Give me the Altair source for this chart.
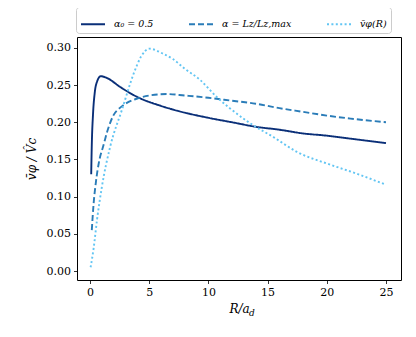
import altair as alt
import pandas as pd

series_names = ["α₀ = 0.5", "α = Lz/Lz,max", "v̄φ(R)"]
colors = ["#0a2f78", "#2a7cb8", "#62c5f3"]
dashes = [[1, 0], [6, 3], [2, 2.4]]
widths = [1.9, 1.9, 2.1]

x_solid = [0.1, 0.15, 0.25, 0.4, 0.6, 0.9, 1.5, 2.5, 4, 6, 8, 10, 12, 14, 16, 18, 20, 22, 25]
y_solid = [0.13, 0.17, 0.21, 0.24, 0.255, 0.262, 0.259, 0.248, 0.234, 0.222, 0.213, 0.206,
           0.200, 0.194, 0.190, 0.185, 0.182, 0.178, 0.172]

x_dash = [0.15, 0.3, 0.5, 0.8, 1.1, 1.5, 2, 2.5, 3, 4, 5, 6.5, 8, 10, 12, 14, 16, 18, 20, 22, 25]
y_dash = [0.055, 0.09, 0.12, 0.15, 0.167, 0.19, 0.21, 0.219, 0.225, 0.232, 0.236, 0.238, 0.236,
          0.233, 0.229, 0.225, 0.219, 0.214, 0.209, 0.205, 0.200]

x_dot = [0.05, 0.3, 0.6, 1.0, 1.7, 2.7, 3.7, 4.3, 5.0, 6.2, 7.0, 8.0, 9.3, 10.7, 11.8, 13.5,
         15.5, 17.5, 20.3, 22.5, 25]
y_dot = [0.005, 0.03, 0.07, 0.113, 0.167, 0.217, 0.266, 0.288, 0.299, 0.292, 0.285, 0.272,
         0.257, 0.234, 0.219, 0.199, 0.18, 0.160, 0.143, 0.131, 0.116]

x_ticks = [0, 5, 10, 15, 20, 25]
y_ticks = [0, 0.05, 0.1, 0.15, 0.2, 0.25, 0.3]

rows = []
for name, xs, ys in zip(series_names, [x_solid, x_dash, x_dot], [y_solid, y_dash, y_dot]):
    for i, (a, b) in enumerate(zip(xs, ys)):
        rows.append({"series": name, "R": a, "v": b, "order": i})
df = pd.DataFrame(rows)

SERIF = "DejaVu Serif"

lines = alt.Chart(df).mark_line(interpolate="monotone").encode(
    x=alt.X("R:Q", scale=alt.Scale(domain=[-1.1, 26.27], nice=False, zero=False),
            axis=alt.Axis(values=x_ticks, title="R/a", format="d", titlePadding=6)),
    y=alt.Y("v:Q", scale=alt.Scale(domain=[-0.0121, 0.3147], nice=False, zero=False),
            axis=alt.Axis(values=y_ticks, format=".2f", title="v̄φ / V̂c", titlePadding=8)),
    color=alt.Color("series:N", scale=alt.Scale(domain=series_names, range=colors),
                    legend=alt.Legend(title=None, orient="none", direction="horizontal",
                                      legendX=-1, legendY=-30, symbolType="stroke",
                                      symbolSize=576, symbolStrokeWidth=2,
                                      columnPadding=31, padding=4, labelOffset=8,
                                      strokeColor="#cccccc", cornerRadius=3,
                                      labelFont=SERIF, labelFontSize=9.5,
                                      labelFontStyle="italic", labelColor="#000")),
    strokeDash=alt.StrokeDash("series:N", scale=alt.Scale(domain=series_names, range=dashes),
                              legend=None),
    strokeWidth=alt.StrokeWidth("series:N", scale=alt.Scale(domain=series_names, range=widths),
                                legend=None),
    order="order:Q",
)

sub = alt.Chart(pd.DataFrame({"t": ["d"]})).mark_text(
    font=SERIF, fontSize=9, fontStyle="italic", color="#000", align="left"
).encode(x=alt.value(172), y=alt.value(276), text="t:N")

chart = alt.layer(lines, sub).properties(
    width=324, height=243,
    autosize=alt.AutoSizeParams(type="none"),
    padding={"left": 69, "top": 29, "right": 7, "bottom": 49},
)

chart = chart.configure_axis(
    labelFont=SERIF, labelFontSize=11, labelColor="#000",
    titleFont=SERIF, titleFontSize=12, titleFontStyle="italic",
    titleFontWeight="normal", titleColor="#000",
    grid=False, domain=False, tickColor="#000", tickSize=3.5, tickWidth=0.8,
    labelPadding=3,
).configure_view(stroke="#000", strokeWidth=1)

chart.save("out.html", embed_options={"renderer": "svg", "actions": False})
